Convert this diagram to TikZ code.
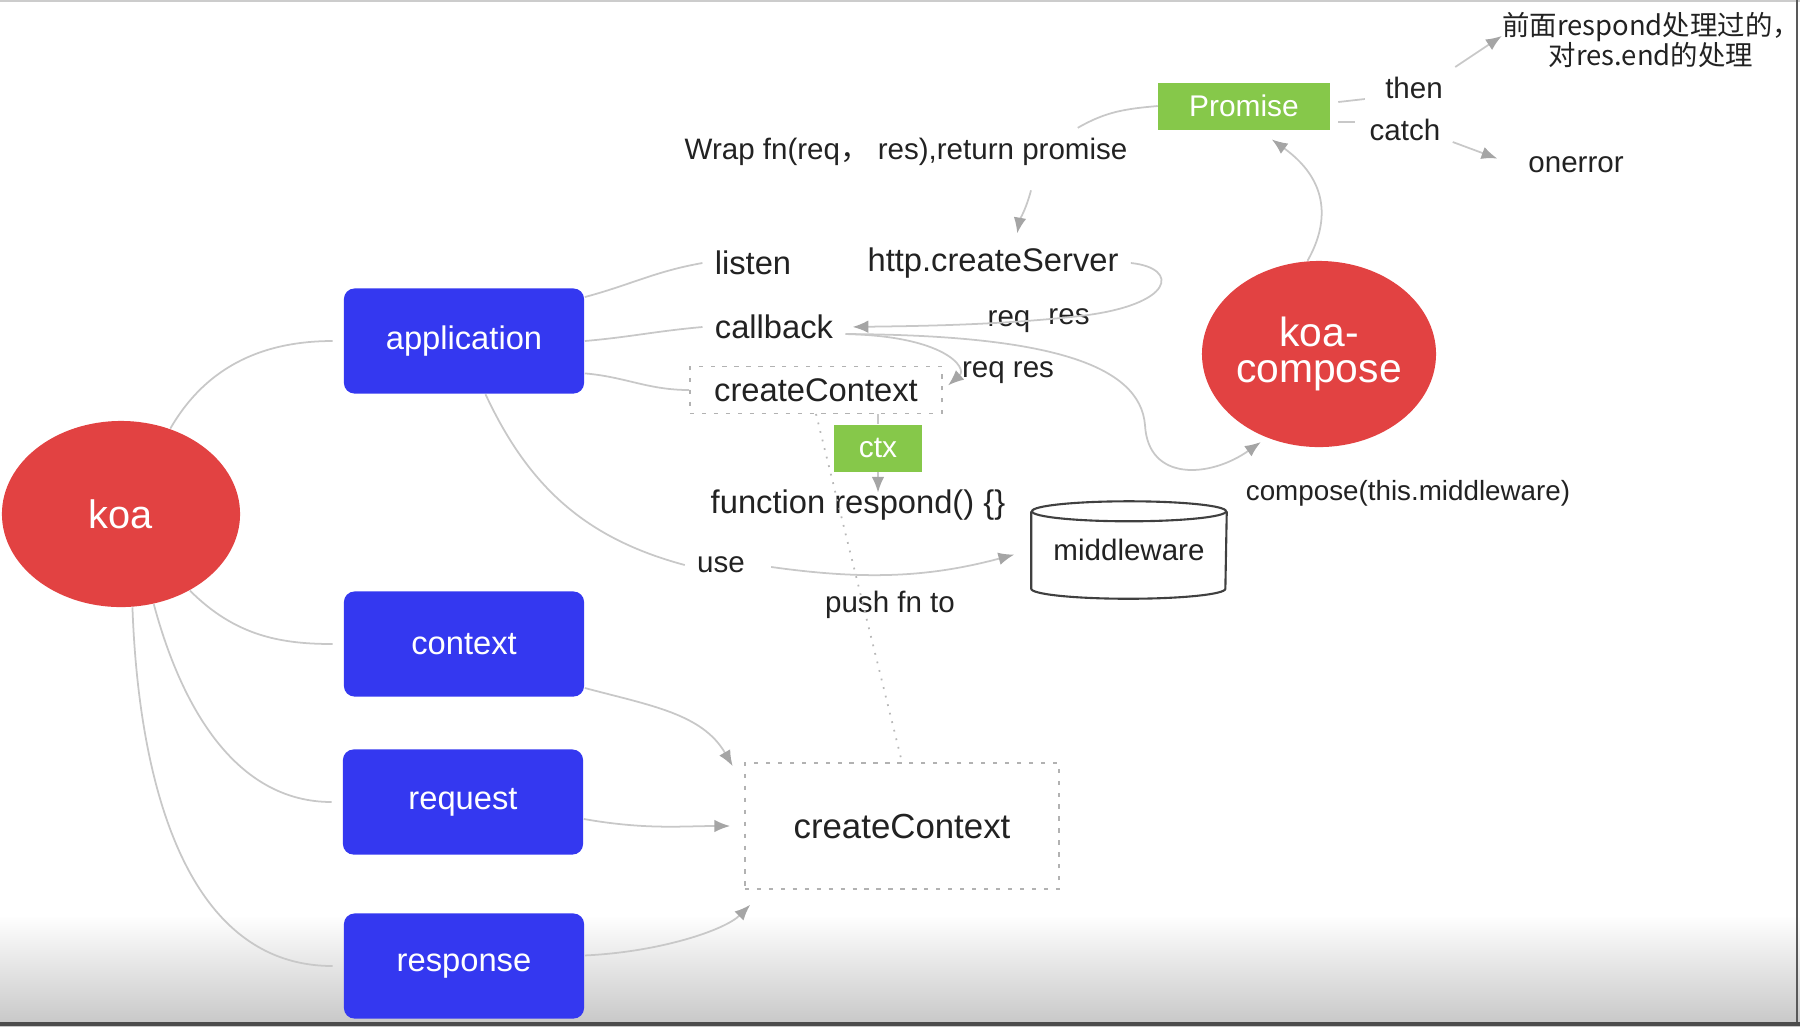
\documentclass[tikz,border=0pt]{standalone}
\usepackage{fontspec}
\setmainfont{Liberation Sans}
\newfontfamily\cjk{Noto Sans CJK SC}
\usepackage{tikz}
\usetikzlibrary{shapes.geometric,arrows.meta,positioning,calc}
\definecolor{koared}{RGB}{226,66,66}
\definecolor{modblue}{RGB}{52,56,240}
\definecolor{leafgreen}{RGB}{134,200,74}
\definecolor{linegray}{RGB}{200,200,200}
\definecolor{tipgray}{RGB}{165,165,165}
\definecolor{txt}{RGB}{34,34,34}

\begin{document}
\begin{tikzpicture}[
        x=0.01cm, y=-0.01cm,
        every node/.style={font=\fontsize{9.3}{11}\selectfont, text=txt},
        note/.style={font=\fontsize{8.4}{10}\selectfont},
        blob/.style={ellipse, fill=koared, text=white, inner sep=0pt, minimum width=2.38cm, minimum height=1.86cm, align=center, font=\fontsize{11.3}{10.3}\selectfont},
        mod/.style={rectangle, rounded corners=3pt, fill=modblue, text=white, minimum width=2.40cm, minimum height=1.05cm},
        tagbox/.style={rectangle, fill=leafgreen, text=white, minimum height=0.47cm, font=\fontsize{8.5}{10}\selectfont},
        dotbox/.style={draw=black!30, dash pattern=on 1.2pt off 2.2pt, line width=0.4pt},
        link/.style={draw=linegray, line width=0.5pt},
        flow/.style={link, shorten >=2pt, -{Latex[length=4.5pt,width=3.6pt,color=tipgray]}},
    ]
        \useasboundingbox (0,0) rectangle (1800,1026);
        \shade[top color=white, bottom color=black!22] (0,915) rectangle (1800,1026);
        \draw[black!20, line width=0.6pt] (0,1) -- (1800,1);
        \draw[black!65, line width=0.8pt] (1797,0) -- (1797,1026);
        \draw[black!70, line width=1pt] (0,1024) -- (1800,1024);

        \node[blob] (koa) at (121,514) {koa};
        \node[blob, minimum width=2.32cm, font=\fontsize{11.6}{10.3}\selectfont] (compose) at (1319,354) {koa-\\compose};

        \node[mod] (app) at (464,341) {application};
        \node[mod] (ctxmod) at (464,644) {context};
        \node[mod] (req) at (463,802) {request};
        \node[mod] (res) at (464,966) {response};

        \node[tagbox, minimum width=1.71cm] (promise) at (1244,106) {Promise};
        \node[tagbox, minimum width=0.87cm] (ctx) at (878,448) {ctx};

        \node[dotbox, minimum width=2.52cm, minimum height=0.46cm] (smallctx) at (816,390) {createContext};
        \node[dotbox, minimum width=3.14cm, minimum height=1.26cm, font=\fontsize{9.9}{12}\selectfont] (bigctx) at (902,826) {createContext};

        % middleware store
        \node[note, minimum width=1.94cm, minimum height=0.76cm] (mw) at (1129,550) {middleware};
        \draw[black!75, line width=0.6pt] (mw.north west) -- (mw.south west) arc[start angle=180, end angle=360, x radius=0.97cm, y radius=0.1cm] -- (mw.north east);
        \draw[black!75, line width=0.6pt] (mw.north) ellipse [x radius=0.97cm, y radius=0.1cm];

        % Labels
        \node (listen) at (753,263) {listen};
        \node (server) at (993,263) {http.createServer};
        \node (callback) at (774,327) {callback};
        \node[note] (reqa) at (1009,322) {req};
        \node[note] (resa) at (1069,317) {res};
        \node[note] (reqres) at (1008,373) {req res};
        \node[inner sep=1pt] (respond) at (858,505) {function respond() \{\}};
        \node[note] (use) at (721,565) {use};
        \node[note] (push) at (890,605) {push fn to};
        \node[font=\fontsize{7.9}{10}\selectfont] (composelbl) at (1408,493) {compose(this.middleware)};
        \node[note] (wrap) at (906,152) {Wrap fn(req{\cjk ，} res),return promise};
        \node[note] (then) at (1414,88) {then};
        \node[note] (catch) at (1405,130) {catch};
        \node[note] (onerror) at (1576,165) {onerror};
        \node[font=\cjk\fontsize{7.8}{8.5}\selectfont, align=center] (zh) at (1651,40) {前面respond处理过的，\\对res.end的处理};

        % koa and its parts
        \draw[link, shorten >=3pt] (koa.60) to[out=60,in=180] (app.west);
        \draw[link, shorten >=3pt] (koa.-48) to[out=-45,in=180] (ctxmod.west);
        \draw[link, shorten >=3pt] (koa.-70) to[out=-75,in=180] (req.west);
        \draw[link, shorten >=3pt] (koa.-83) to[out=-88,in=180] (res.west);

        % application
        \draw[link] (app.20) to[out=15,in=190] (listen.west);
        \draw[link] (app.east) to[out=5,in=185] (callback.west);
        \draw[link] (app.-15) to[out=-5,in=180] (smallctx.west);
        \draw[link] (app.-68) to[out=-65,in=165] (use.west);
        \draw[flow, shorten <=4pt, shorten >=5pt] (use.east) to[out=-8,in=195] (mw.west);

        \draw[flow] (server.east) .. controls (1180,268) and (1175,305) .. (1080,316) .. controls (1000,325) and (920,326) .. (callback.east);
        \draw[flow] ([yshift=-2pt]callback.east) .. controls (945,336) and (968,368) .. (smallctx.east);
        \draw[flow] ([yshift=-2pt]callback.east) .. controls (1050,335) and (1140,365) .. (1145,425) .. controls (1148,482) and (1210,478) .. (compose.238);

        \draw[link] (smallctx.south -| ctx) -- (ctx.north);
        \draw[flow, shorten >=-2pt] (ctx.south) -- (ctx.south |- respond.north);
        \draw[draw=black!28, line width=0.5pt, dotted] (smallctx.south) -- (bigctx.north);

        % into createContext
        \draw[flow] (ctxmod.-20) to[out=-15,in=120] ($(bigctx.north west)+(-8,10)$);
        \draw[flow, shorten >=4pt] (req.-8) to[out=-10,in=180] (bigctx.west);
        \draw[flow] (res.5) .. controls (660,952) and (725,930) .. ($(bigctx.south west)+(11,10)$);

        % promise
        \draw[flow] (compose.97) .. controls (1325,230) and (1335,185) .. ($(promise.south)+(22,5)$);
        \draw[link] (promise.west) to[out=185,in=30] ($(wrap.north east)+(-62,2)$);
        \draw[flow] ($(server.north)+(38,-45)$) to[out=-105,in=80] ($(server.north)+(23,5)$);
        \draw[link] ($(promise.east)+(8,-4)$) -- ($(then.west)+(-8,11)$);
        \draw[flow] ($(then.east)+(0,-21)$) -- ($(zh.west)+(18,-8)$);
        \draw[link] ($(promise.east)+(8,16)$) -- ($(catch.west)+(-2,-8)$);
        \draw[flow] ($(catch.east)+(0,12)$) -- ($(onerror.west)+(-12,-4)$);
\end{tikzpicture}
\end{document}
